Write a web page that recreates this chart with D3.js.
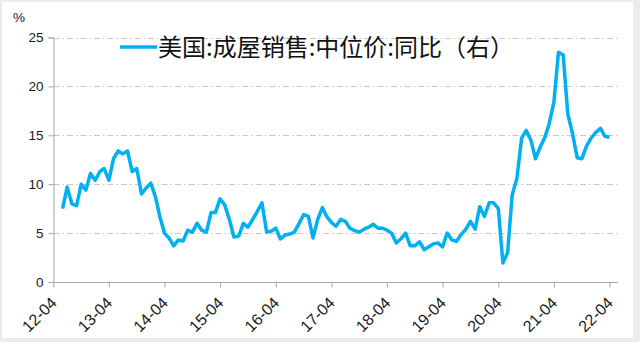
<!DOCTYPE html>
<html>
<head>
<meta charset="utf-8">
<script src="https://cdn.jsdelivr.net/npm/d3@7"></script>
<style>
  html, body { margin: 0; padding: 0; background: #ececec; }
  svg { display: block; }
</style>
</head>
<body>
<svg id="chart" width="640" height="342"></svg>
<script>
// ---- data ----
const seriesName = "美国:成屋销售:中位价:同比（右）";
const startMonth = "2012-06";
const yoy = [
  7.5, 9.7, 8.0, 7.8, 10.0, 9.4, 11.1, 10.4, 11.3, 11.6, 10.4, 12.6,
  13.4, 13.1, 13.4, 11.3, 11.6, 9.0, 9.6, 10.1, 8.7, 6.7, 5.0, 4.5,
  3.7, 4.3, 4.2, 5.3, 5.1, 6.0, 5.3, 5.1, 7.1, 7.1, 8.5, 7.9,
  6.4, 4.6, 4.7, 6.0, 5.6, 6.4, 7.2, 8.1, 5.1, 5.2, 5.5, 4.4,
  4.8, 4.9, 5.1, 6.0, 6.9, 6.7, 4.5, 6.4, 7.6, 6.7, 6.1, 5.7,
  6.4, 6.2, 5.5, 5.25, 5.1, 5.4, 5.6, 5.9, 5.5, 5.5, 5.3, 5.0,
  4.0, 4.4, 5.0, 3.7, 3.7, 4.1, 3.3, 3.6, 3.9, 4.0, 3.6, 5.0,
  4.3, 4.15, 4.85, 5.4, 6.2, 5.4, 7.7, 6.7, 8.1, 8.1, 7.5, 1.95,
  3.0, 8.9, 10.6, 14.7, 15.5, 14.5, 12.6, 13.8, 14.8, 16.2, 18.4, 23.5,
  23.2, 17.2, 15.2, 12.7, 12.6, 13.9, 14.7, 15.3, 15.7, 14.9, 14.8
];
const xTickLabels = ["12-04","13-04","14-04","15-04","16-04","17-04","18-04","19-04","20-04","21-04","22-04"];
const yTicks = [0, 5, 10, 15, 20, 25];
const yUnit = "%";

// ---- build ----
const parseMonth = d3.timeParse("%Y-%m");
const parseTick = d3.timeParse("%y-%m");
const start = parseMonth(startMonth);
const data = yoy.map((v, i) => ({ date: d3.timeMonth.offset(start, i), value: v }));
const tickDates = xTickLabels.map(parseTick);

const svg = d3.select("#chart");
svg.append("rect").attr("x", 2).attr("y", 2).attr("width", 631).attr("height", 336).attr("fill", "#ffffff");

const x = d3.scaleTime()
  .domain([tickDates[0], tickDates[tickDates.length - 1]])
  .range([53.3, 609.5]);
const y = d3.scaleLinear().domain([0, 25]).range([282, 37.5]);

const font = "Liberation Sans, Arial, sans-serif";

// gridlines
svg.append("g")
  .selectAll("line")
  .data(yTicks.filter(t => t > 0))
  .join("line")
  .attr("x1", 53.5).attr("x2", 618)
  .attr("y1", d => Math.round(y(d)) + 0.5).attr("y2", d => Math.round(y(d)) + 0.5)
  .attr("stroke", "#c8c8c8").attr("stroke-width", 1)
  .attr("stroke-dasharray", "6,3,1.5,3");

// y axis
const yAxis = svg.append("g")
  .attr("transform", "translate(53.5,0)")
  .call(d3.axisLeft(y).tickValues(yTicks).tickSize(5).tickPadding(5).tickFormat(d3.format("d")));
yAxis.select(".domain").attr("stroke", "#a6a6a6");
yAxis.selectAll(".tick line").attr("stroke", "#a6a6a6");
yAxis.selectAll("text").attr("font-family", font).attr("font-size", 13.5).attr("fill", "#1a1a1a");

svg.append("text").attr("x", 13).attr("y", 22)
  .attr("font-family", font).attr("font-size", 13.5).attr("fill", "#1a1a1a")
  .text(yUnit);

// x axis
const xAxis = svg.append("g")
  .attr("transform", "translate(0,282.5)")
  .call(d3.axisBottom(x).tickValues(tickDates).tickSize(5).tickSizeOuter(0).tickFormat((d, i) => xTickLabels[i]));
xAxis.select(".domain").attr("stroke", "#a6a6a6").attr("d", `M53.3,0H618`);
xAxis.selectAll(".tick line").attr("stroke", "#a6a6a6");
xAxis.selectAll("text")
  .attr("font-family", font).attr("font-size", 16).attr("fill", "#1a1a1a")
  .attr("text-anchor", "end")
  .attr("x", 0).attr("y", 0).attr("dy", 0)
  .attr("transform", "translate(4,21.5) rotate(-45)");

// line
const line = d3.line().x(d => x(d.date)).y(d => y(d.value));
svg.append("path").datum(data)
  .attr("fill", "none").attr("stroke", "#00b0f0").attr("stroke-width", 3.5)
  .attr("stroke-linejoin", "round").attr("d", line);

// legend
svg.append("line").attr("x1", 120).attr("x2", 157).attr("y1", 47).attr("y2", 47)
  .attr("stroke", "#00b0f0").attr("stroke-width", 3.5);
svg.append("text").attr("x", 158).attr("y", 56)
  .attr("font-family", "Noto Sans CJK SC, sans-serif").attr("font-size", 24).attr("fill", "#111")
  .text(seriesName);
</script>
</body>
</html>
